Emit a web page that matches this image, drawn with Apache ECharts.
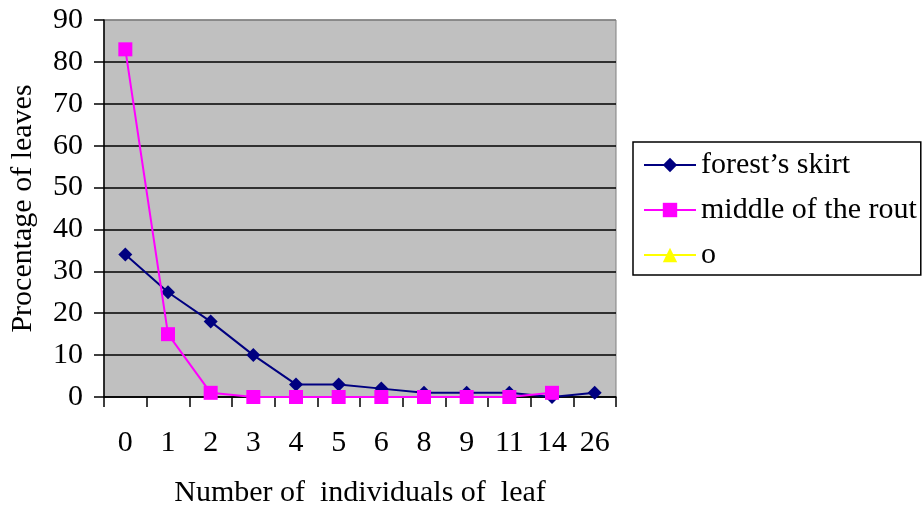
<!DOCTYPE html>
<html><head><meta charset="utf-8">
<script src="https://cdn.jsdelivr.net/npm/echarts@6/dist/echarts.min.js"></script>
<style>html,body{margin:0;padding:0;background:#fff}#c{width:924px;height:506px}</style>
</head><body><div id="c"></div>
<script>
const categories = ['0','1','2','3','4','5','6','8','9','11','14','26'];
const forestSkirt = [34, 25, 18, 10, 3, 3, 2, 1, 1, 1, 0, 1];
const middleRout = [83, 15, 1, 0, 0, 0, 0, 0, 0, 0, 1, null];
const oSeries = [];
const yTicks = {min: 0, max: 90, interval: 10};
const font = 'Liberation Serif, Times New Roman, serif';
const fs = 30;
const chart = echarts.init(document.getElementById('c'));
chart.setOption({
  animation: false,
  backgroundColor: '#fff',
  grid: {left: 104, right: 308, top: 20, bottom: 109, outerBoundsMode: 'none', containLabel: false,
         show: true, backgroundColor: '#C0C0C0', borderColor: '#808080', borderWidth: 1},
  legend: {
    orient: 'vertical', left: 633, top: 142,
    backgroundColor: '#fff', borderColor: '#000', borderWidth: 1.5,
    padding: [8, 4, 5, 10], itemGap: 15, itemWidth: 52, itemHeight: 18,
    textStyle: {fontFamily: font, fontSize: fs, color: '#000'},
    data: ['forest\u2019s skirt', 'middle of the rout', 'o']
  },
  xAxis: {
    type: 'category', data: categories, boundaryGap: true,
    name: 'Number of  individuals of  leaf', nameLocation: 'middle', nameGap: 81,
    nameTextStyle: {fontFamily: font, fontSize: fs, color: '#000'},
    axisLine: {lineStyle: {color: '#000', width: 1.5}},
    axisTick: {show: true, length: 10, lineStyle: {color: '#000', width: 1.5}},
    axisLabel: {fontFamily: font, fontSize: fs, color: '#000', margin: 31}
  },
  yAxis: {
    type: 'value', min: yTicks.min, max: yTicks.max, interval: yTicks.interval,
    name: 'Procentage of leaves', nameLocation: 'middle', nameGap: 66, nameRotate: 90,
    nameTextStyle: {fontFamily: font, fontSize: fs, color: '#000'},
    axisLine: {show: true, lineStyle: {color: '#000', width: 1.5}},
    axisTick: {show: true, length: 10, lineStyle: {color: '#000', width: 1.5}},
    axisLabel: {fontFamily: font, fontSize: fs, color: '#000', margin: 21},
    splitLine: {show: true, lineStyle: {color: ['#000','#000','#000','#000','#000','#000','#000','#000','#000','#808080'], width: 1.5}}
  },
  series: [
    {name: 'forest\u2019s skirt', type: 'line', data: forestSkirt, symbol: 'diamond', symbolSize: 14,
     itemStyle: {color: '#000080'}, lineStyle: {color: '#000080', width: 2}, z: 3},
    {name: 'middle of the rout', type: 'line', data: middleRout, symbol: 'rect', symbolSize: 14,
     itemStyle: {color: '#FF00FF'}, lineStyle: {color: '#FF00FF', width: 2}, z: 4},
    {name: 'o', type: 'line', data: oSeries, symbol: 'triangle', symbolSize: 14,
     itemStyle: {color: '#FFFF00'}, lineStyle: {color: '#FFFF00', width: 2}}
  ]
});
</script></body></html>
